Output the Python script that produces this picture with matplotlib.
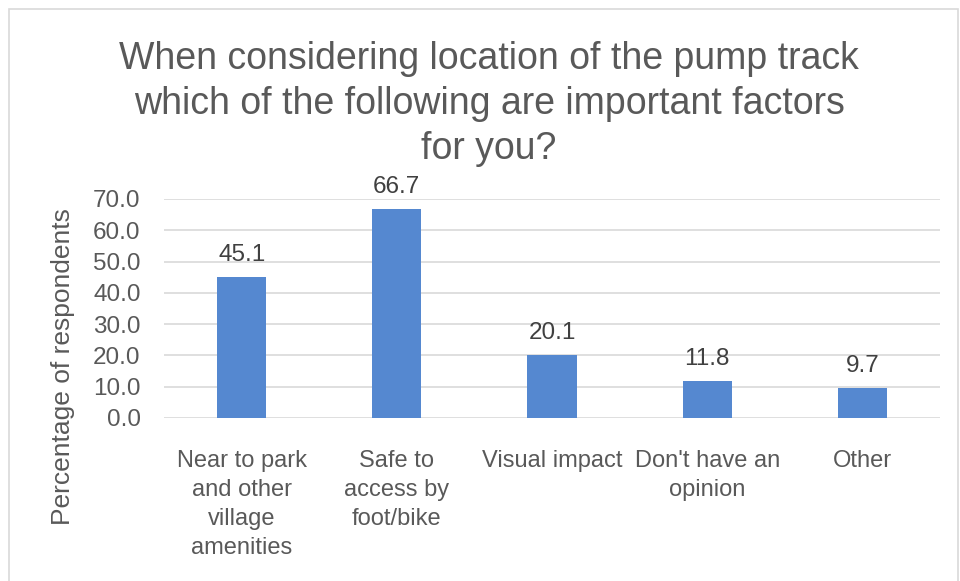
import matplotlib
matplotlib.use('Agg')
import matplotlib.pyplot as plt
from matplotlib.patches import Rectangle

# data
categories = ["Near to park\nand other\nvillage\namenities", "Safe to\naccess by\nfoot/bike",
              "Visual impact", "Don't have an\nopinion", "Other"]
values = [45.1, 66.7, 20.1, 11.8, 9.7]
yticks = [0, 10, 20, 30, 40, 50, 60, 70]

text_col = "#595959"
bar_col = "#5588d0"
grid_col = "#d9d9d9"

plt.rcParams['font.family'] = ['Liberation Sans', 'DejaVu Sans']

fig = plt.figure(figsize=(9.6, 5.81), dpi=100)
ax = fig.add_axes([0.171, 0.2806, 0.808, 0.3769])

# outer chart border
fig.patches.append(Rectangle((9/960, -0.01), 949/960, 1 - 9/581 + 0.01, transform=fig.transFigure,
                             fill=False, edgecolor="#d9d9d9", linewidth=1.2))

x = range(len(values))
bars = ax.bar(x, values, width=0.316, color=bar_col, zorder=3)

#data labels above bars
for i, v in enumerate(values):
    ax.annotate(f"{v:.1f}", (i, v), xytext=(0, 8), textcoords="offset points",
                ha="center", va="bottom", fontsize=17.5, color="#404040")

ax.set_xlim(-0.5, len(values) - 0.5)
ax.set_ylim(0, 70)
ax.set_yticks(yticks)
ax.set_yticklabels([f"{t:.1f}" for t in yticks], fontsize=17.5, color=text_col)
ax.set_xticks(list(x))
ax.set_xticklabels(categories, fontsize=17, color=text_col, linespacing=1.42, va="top")
ax.tick_params(axis="both", length=0)
ax.tick_params(axis="x", pad=23)
ax.tick_params(axis="y", pad=17)
ax.yaxis.grid(True, color=grid_col, linewidth=1.2, zorder=0)
for s in ax.spines.values():
    s.set_visible(False)

ax.set_ylabel("Percentage of respondents", fontsize=19, color=text_col)
ax.yaxis.set_label_coords(-0.115, 0.233)

fig.text(489/960, 1 - 104/581, "When considering location of the pump track\nwhich of the following are important factors\nfor you?",
         ha="center", va="center", fontsize=27, color=text_col, linespacing=1.33)

fig.savefig("out.png", dpi=100)
